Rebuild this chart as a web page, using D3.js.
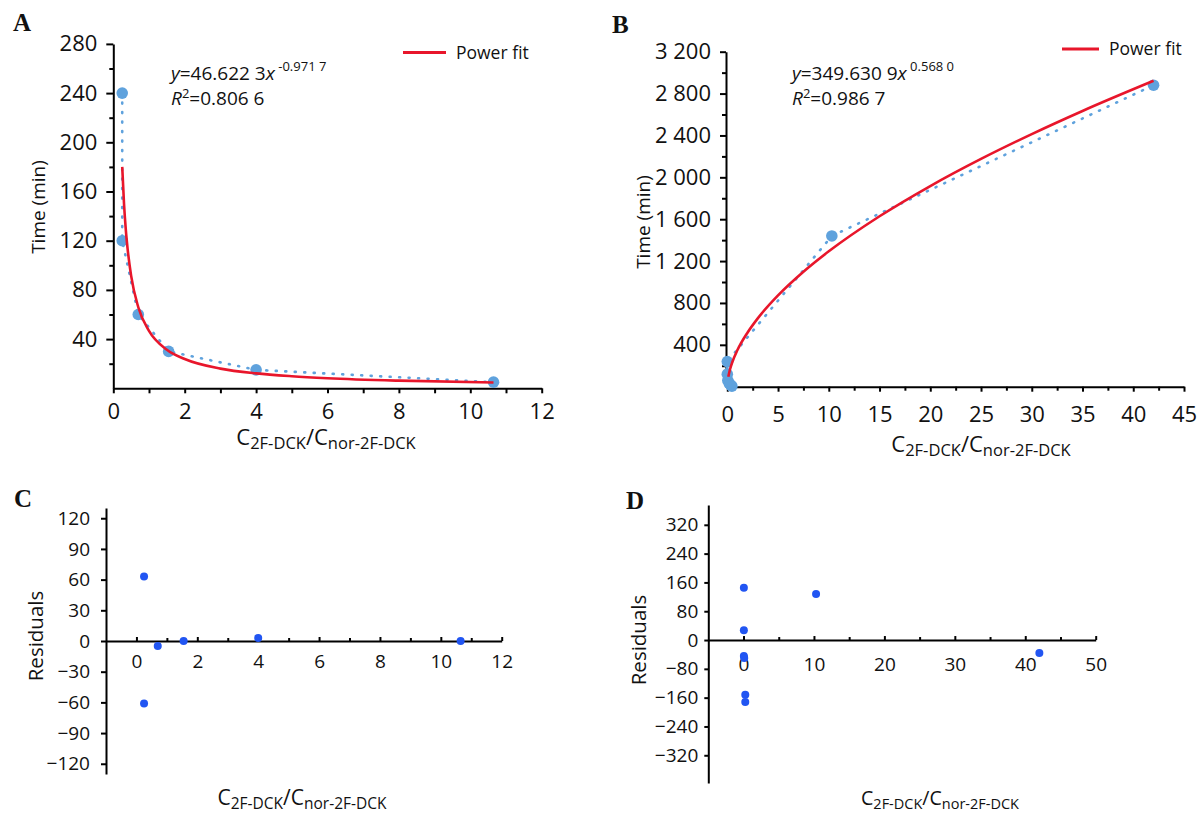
<!DOCTYPE html>
<html>

<head>
    <meta charset="UTF-8">
    <title>Power fit and residuals</title>
    <script src="https://d3js.org/d3.v7.min.js"></script>
    <style>
        body {
            margin: 0;
            background: #fff;
        }

        svg text {
            font-family: "Open Sans", sans-serif;
            fill: #111;
        }

        .panel-label {
            font-family: "Liberation Serif", serif;
            font-weight: bold;
            font-size: 25px;
        }
    </style>
</head>

<body>
    <svg id="chart" width="1200" height="823"></svg>
    <script>
        // measured points, panel A (time vs ratio)
        const aRatio = [0.25, 0.25, 0.7, 1.55, 4.0, 10.65];
        const aTime = [240, 120, 60, 30, 15, 5];
        // red power-fit line of A
        const aFitX = [0.25, 0.3, 0.35, 0.4, 0.5, 0.7, 1, 1.5, 2, 3, 4, 5, 6, 8, 10.65];
        const aFitY = [180, 150, 129, 113.6, 91.4, 65.9, 46.6, 31.4, 23.8, 16.0, 12.1, 9.8, 8.2, 6.2, 4.7];

        // measured points, panel B
        const bRatio = [0.45, 0.35, 0.2, 0.05, 0.0, 0.0, 10.3, 42.0];
        const bTime = [5, 15, 30, 60, 120, 240, 1440, 2880];
        const bFitX = [0.1, 0.25, 0.5, 1, 2, 3, 5, 7.5, 10, 15, 20, 25, 30, 35, 42];
        const bFitY = [94.5, 159, 236, 350, 518, 653, 872, 1098, 1293, 1628, 1917, 2176, 2413, 2634, 2922];

        // residuals
        const cRatio = [0.25, 0.25, 0.7, 1.55, 4.0, 10.65];
        const cResid = [63, -61, -5, 0, 3, 0];
        const dRatio = [0.05, 0.05, 0.05, 0.1, 0.25, 0.25, 10.3, 42.0];
        const dResid = [145, 27, -44, -50, -152, -172, 128, -36];

        // ticks
        const aXTicks = [0, 2, 4, 6, 8, 10, 12];
        const aXMinor = [1, 3, 5, 7, 9, 11];
        const aYTicks = [40, 80, 120, 160, 200, 240, 280];
        const aYMinor = [20, 60, 100, 140, 180, 220, 260];
        const bXTicks = [0, 5, 10, 15, 20, 25, 30, 35, 40, 45];
        const bXMinor = [2.5, 7.5, 12.5, 17.5, 22.5, 27.5, 32.5, 37.5, 42.5];
        const bYTicks = [400, 800, 1200, 1600, 2000, 2400, 2800, 3200];
        const bYMinor = [200, 600, 1000, 1400, 1800, 2200, 2600, 3000];
        const cXTicks = [0, 2, 4, 6, 8, 10, 12];
        const cXMinor = [1, 3, 5, 7, 9, 11];
        const cYTicks = [-120, -90, -60, -30, 0, 30, 60, 90, 120];
        const dXTicks = [0, 10, 20, 30, 40, 50];
        const dXMinor = [5, 15, 25, 35, 45];
        const dYTicks = [-320, -240, -160, -80, 0, 80, 160, 240, 320];

        const lightBlue = "#5fa2dd";
        const fitRed = "#e8162b";
        const residBlue = "#2155f2";

        const svg = d3.select("#chart");

        function styleAxis(g, fontSize) {
            g.selectAll("path, line").attr("stroke", "#000").attr("stroke-width", 2);
            g.selectAll("text")
                .attr("font-size", fontSize)
                .attr("font-family", "Open Sans, sans-serif")
                .attr("fill", "#111");
        }

        function minorTicks(g, axis) {
            g.call(axis.tickFormat(() => ""));
            g.select(".domain").remove();
            g.selectAll("line").attr("stroke", "#000").attr("stroke-width", 2);
        }

        function xTitle(x, y, big, small, shift) {
            const t = svg.append("text")
                .attr("x", x)
                .attr("y", y)
                .attr("text-anchor", "middle")
                .attr("font-size", big);
            t.append("tspan").text("C");
            t.append("tspan").attr("font-size", small).attr("dy", shift).text("2F-DCK");
            t.append("tspan").attr("dy", -shift).text("/C");
            t.append("tspan").attr("font-size", small).attr("dy", shift).text("nor-2F-DCK");
        }

        function yTitle(x, y, size, label) {
            svg.append("text")
                .attr("transform", "translate(" + x + "," + y + ") rotate(-90)")
                .attr("text-anchor", "middle")
                .attr("font-size", size)
                .text(label);
        }

        function equation(x, y, coef, power, r2) {
            const t = svg.append("text").attr("x", x).attr("y", y).attr("font-size", 19);
            t.append("tspan").attr("font-style", "italic").text("y");
            t.append("tspan").text("=" + coef);
            t.append("tspan").attr("font-style", "italic").text("x");
            t.append("tspan").attr("font-size", 13).attr("dy", -9).text(" " + power);
            const r = svg.append("text").attr("x", x).attr("y", y + 25).attr("font-size", 19);
            r.append("tspan").attr("font-style", "italic").text("R");
            r.append("tspan").attr("font-size", 13).attr("dy", -7).text("2");
            r.append("tspan").attr("dy", 7).text("=" + r2);
        }

        function legend(x1, x2, y) {
            svg.append("line")
                .attr("x1", x1).attr("x2", x2)
                .attr("y1", y).attr("y2", y)
                .attr("stroke", fitRed)
                .attr("stroke-width", 3);
            svg.append("text")
                .attr("x", x2 + 10)
                .attr("y", y + 6)
                .attr("font-size", 17.5)
                .text("Power fit");
        }

        function fitPanel(xs, ys, xVals, yVals, fitX, fitY) {
            const pts = xVals.map((v, i) => [v, yVals[i]]);
            const dotted = d3.line().x(d => xs(d[0])).y(d => ys(d[1]));
            svg.append("path")
                .datum(pts)
                .attr("fill", "none")
                .attr("stroke", lightBlue)
                .attr("stroke-width", 2.6)
                .attr("stroke-linecap", "round")
                .attr("stroke-dasharray", "1,8.5")
                .attr("d", dotted);
            svg.selectAll(null)
                .data(pts)
                .enter()
                .append("circle")
                .attr("cx", d => xs(d[0]))
                .attr("cy", d => ys(d[1]))
                .attr("r", 5.8)
                .attr("fill", lightBlue);
            const fit = d3.line()
                .curve(d3.curveMonotoneX)
                .x((d, i) => xs(d))
                .y((d, i) => ys(fitY[i]));
            svg.append("path")
                .datum(fitX)
                .attr("fill", "none")
                .attr("stroke", fitRed)
                .attr("stroke-width", 2.6)
                .attr("d", fit);
        }

        function residPoints(xs, ys, xVals, yVals) {
            svg.selectAll(null)
                .data(xVals)
                .enter()
                .append("circle")
                .attr("cx", d => xs(d))
                .attr("cy", (d, i) => ys(yVals[i]))
                .attr("r", 4)
                .attr("fill", residBlue);
        }

        // ---------- A ----------
        const xA = d3.scaleLinear().domain([0, 12]).range([113.3, 541.7]);
        const yA = d3.scaleLinear().domain([0, 280]).range([388.3, 43.9]);

        minorTicks(svg.append("g").attr("transform", "translate(113.3,0)"),
            d3.axisLeft(yA).tickValues(aYMinor).tickSize(4));
        minorTicks(svg.append("g").attr("transform", "translate(0,388.3)"),
            d3.axisBottom(xA).tickValues(aXMinor).tickSize(5));
        styleAxis(svg.append("g").attr("transform", "translate(113.3,0)")
            .call(d3.axisLeft(yA).tickValues(aYTicks).tickSize(7).tickSizeOuter(0).tickPadding(9)), 22);
        styleAxis(svg.append("g").attr("transform", "translate(0,388.3)")
            .call(d3.axisBottom(xA).tickValues(aXTicks).tickSize(5).tickSizeOuter(0).tickPadding(10)), 22);

        fitPanel(xA, yA, aRatio, aTime, aFitX, aFitY);
        equation(171, 80, "46.622 3", "-0.971 7", "0.806 6");
        legend(403, 446, 52.5);
        yTitle(45, 207, 19, "Time (min)");
        xTitle(326, 445, 22, 16.5, 4);
        svg.append("text").attr("class", "panel-label").attr("x", 13).attr("y", 31).text("A");

        // ---------- B ----------
        const xB = d3.scaleLinear().domain([0, 45]).range([727.3, 1184]);
        const yB = d3.scaleLinear().domain([0, 3200]).range([386.7, 51.7]);
        const thousands = d => d >= 1000 ? Math.floor(d / 1000) + " " + d3.format("03")(d % 1000) : String(d);

        minorTicks(svg.append("g").attr("transform", "translate(726,0)"),
            d3.axisLeft(yB).tickValues(bYMinor).tickSize(4));
        minorTicks(svg.append("g").attr("transform", "translate(0,386.7)"),
            d3.axisBottom(xB).tickValues(bXMinor).tickSize(4));
        styleAxis(svg.append("g").attr("transform", "translate(726,0)")
            .call(d3.axisLeft(yB).tickValues(bYTicks).tickFormat(thousands).tickSize(6).tickSizeOuter(0).tickPadding(9)), 22);
        styleAxis(svg.append("g").attr("transform", "translate(0,386.7)")
            .call(d3.axisBottom(xB).tickValues(bXTicks).tickSize(5).tickSizeOuter(0).tickPadding(15)), 22);

        fitPanel(xB, yB, bRatio, bTime, bFitX, bFitY);
        equation(792, 80, "349.630 9", "0.568 0", "0.986 7");
        legend(1062, 1099, 49);
        yTitle(650, 222, 19, "Time (min)");
        xTitle(981, 452, 22, 16.5, 4);
        svg.append("text").attr("class", "panel-label").attr("x", 612).attr("y", 33).text("B");

        // ---------- C ----------
        const xC = d3.scaleLinear().domain([-1, 12]).range([106, 501.7]);
        const yC = d3.scaleLinear().domain([-130, 130]).range([774, 508]);

        minorTicks(svg.append("g").attr("transform", "translate(0," + yC(0) + ")"),
            d3.axisBottom(xC).tickValues(cXMinor).tickSize(-3));
        styleAxis(svg.append("g").attr("transform", "translate(106,0)")
            .call(d3.axisLeft(yC).tickValues(cYTicks).tickSize(5).tickSizeOuter(0).tickPadding(11)), 19);
        styleAxis(svg.append("g").attr("transform", "translate(0," + yC(0) + ")")
            .call(d3.axisBottom(xC).tickValues(cXTicks).tickSize(-4).tickSizeOuter(0).tickPadding(14)), 19);

        residPoints(xC, yC, cRatio, cResid);
        yTitle(43, 636, 20.5, "Residuals");
        xTitle(302, 805, 21, 15.5, 3.5);
        svg.append("text").attr("class", "panel-label").attr("x", 14).attr("y", 507).text("C");

        // ---------- D ----------
        const xD = d3.scaleLinear().domain([-5, 50]).range([708.3, 1095.7]);
        const yD = d3.scaleLinear().domain([-397, 375]).range([783, 505]);

        minorTicks(svg.append("g").attr("transform", "translate(0," + yD(0) + ")"),
            d3.axisBottom(xD).tickValues(dXMinor).tickSize(-3));
        styleAxis(svg.append("g").attr("transform", "translate(708.3,0)")
            .call(d3.axisLeft(yD).tickValues(dYTicks).tickSize(4).tickSizeOuter(0).tickPadding(6)), 19);
        styleAxis(svg.append("g").attr("transform", "translate(0," + yD(0) + ")")
            .call(d3.axisBottom(xD).tickValues(dXTicks).tickSize(-4).tickSizeOuter(0).tickPadding(17)), 19);

        residPoints(xD, yD, dRatio, dResid);
        yTitle(646, 640, 20.5, "Residuals");
        xTitle(940, 805, 19.5, 14.5, 3.5);
        svg.append("text").attr("class", "panel-label").attr("x", 626).attr("y", 509).text("D");
    </script>
</body>

</html>
